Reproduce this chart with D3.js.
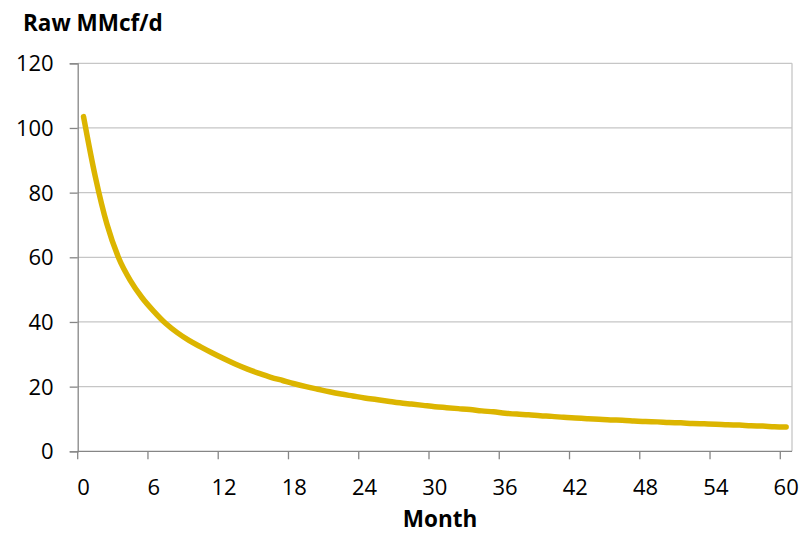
<!DOCTYPE html>
<html>
<head>
<meta charset="utf-8">
<script src="https://cdn.jsdelivr.net/npm/d3@7"></script>
<style>
  body { margin: 0; background: #fff; }
  svg { display: block; }
  text { font-family: "Open Sans", "Liberation Sans", sans-serif; fill: #000; }
</style>
</head>
<body>
<svg id="chart" width="800" height="534"></svg>
<script>
// ---- data ----
const months = d3.range(0, 61);
const rawMMcfd = [
  103.5, 85.0, 70.2, 59.8, 52.8, 47.5, 43.3, 39.6, 36.7, 34.3,
  32.3, 30.4, 28.6, 26.9, 25.4, 24.1, 22.9, 21.9, 20.9, 20.0,
  19.2, 18.4, 17.7, 17.1, 16.5, 16.0, 15.5, 15.0, 14.6, 14.2,
  13.8, 13.5, 13.2, 12.9, 12.5, 12.2, 11.8, 11.5, 11.3, 11.0,
  10.8, 10.5, 10.3, 10.1, 9.9, 9.7, 9.6, 9.4, 9.2, 9.1,
  8.9, 8.8, 8.6, 8.5, 8.4, 8.2, 8.1, 7.9, 7.8, 7.6, 7.5
];
const yTicks = [0, 20, 40, 60, 80, 100, 120];
const xTickLabels = [0, 6, 12, 18, 24, 30, 36, 42, 48, 54, 60];
const yTitle = "Raw MMcf/d";
const xTitle = "Month";

// ---- layout ----
const svg = d3.select("#chart");
const pLeft = 77.7, pRight = 792, pTop = 63.3, pBottom = 451.3;

const x = d3.scaleBand().domain(months).range([pLeft, pRight]).paddingInner(0).paddingOuter(0);
const y = d3.scaleLinear().domain([0, 120]).range([pBottom, pTop]);

// gridlines
svg.append("g").selectAll("line").data(yTicks.filter(d => d > 0)).join("line")
  .attr("x1", pLeft).attr("x2", pRight)
  .attr("y1", d => y(d)).attr("y2", d => y(d))
  .attr("stroke", "#c6c6c6").attr("stroke-width", 1.3);

// right border
svg.append("line").attr("x1", pRight).attr("x2", pRight).attr("y1", pTop).attr("y2", pBottom)
  .attr("stroke", "#c6c6c6").attr("stroke-width", 1.3);

// y axis
const yAxis = svg.append("g").attr("transform", `translate(${pLeft},0)`)
  .call(d3.axisLeft(y).tickValues(yTicks).tickSize(8).tickPadding(16));
yAxis.select(".domain").attr("stroke", "#868686").attr("stroke-width", 1.3);
yAxis.selectAll(".tick line").attr("stroke", "#868686").attr("stroke-width", 1.3);
yAxis.selectAll(".tick text").attr("font-size", 22).attr("font-family", "'Open Sans', sans-serif").attr("fill", "#000").attr("dy", "0.34em");

// x axis (category axis: ticks on category boundaries, labels at centres)
const xg = svg.append("g").attr("transform", `translate(0,${pBottom})`);
xg.append("line").attr("x1", pLeft).attr("x2", pRight).attr("y1", 0).attr("y2", 0)
  .attr("stroke", "#868686").attr("stroke-width", 1.3);
xg.selectAll("line.tk").data(xTickLabels).join("line").attr("class", "tk")
  .attr("x1", d => x(d)).attr("x2", d => x(d))
  .attr("y1", 0).attr("y2", 8)
  .attr("stroke", "#868686").attr("stroke-width", 1.3);
xg.selectAll("text").data(xTickLabels).join("text")
  .attr("x", d => x(d) + x.bandwidth() / 2)
  .attr("y", 43.5)
  .attr("text-anchor", "middle")
  .attr("font-size", 22)
  .text(d => d);

// line
const line = d3.line()
  .x((d, i) => x(months[i]) + x.bandwidth() / 2)
  .y(d => y(d))
  .curve(d3.curveMonotoneX);
svg.append("path").datum(rawMMcfd)
  .attr("d", line)
  .attr("fill", "none")
  .attr("stroke", "#dcb500")
  .attr("stroke-width", 5.5)
  .attr("stroke-linecap", "round")
  .attr("stroke-linejoin", "round");

// titles
svg.append("text").attr("x", 23).attr("y", 31)
  .attr("font-size", 22.5).attr("font-weight", "bold").text(yTitle);
svg.append("text").attr("x", 440).attr("y", 527)
  .attr("text-anchor", "middle")
  .attr("font-size", 22.5).attr("font-weight", "bold").text(xTitle);
</script>
</body>
</html>
